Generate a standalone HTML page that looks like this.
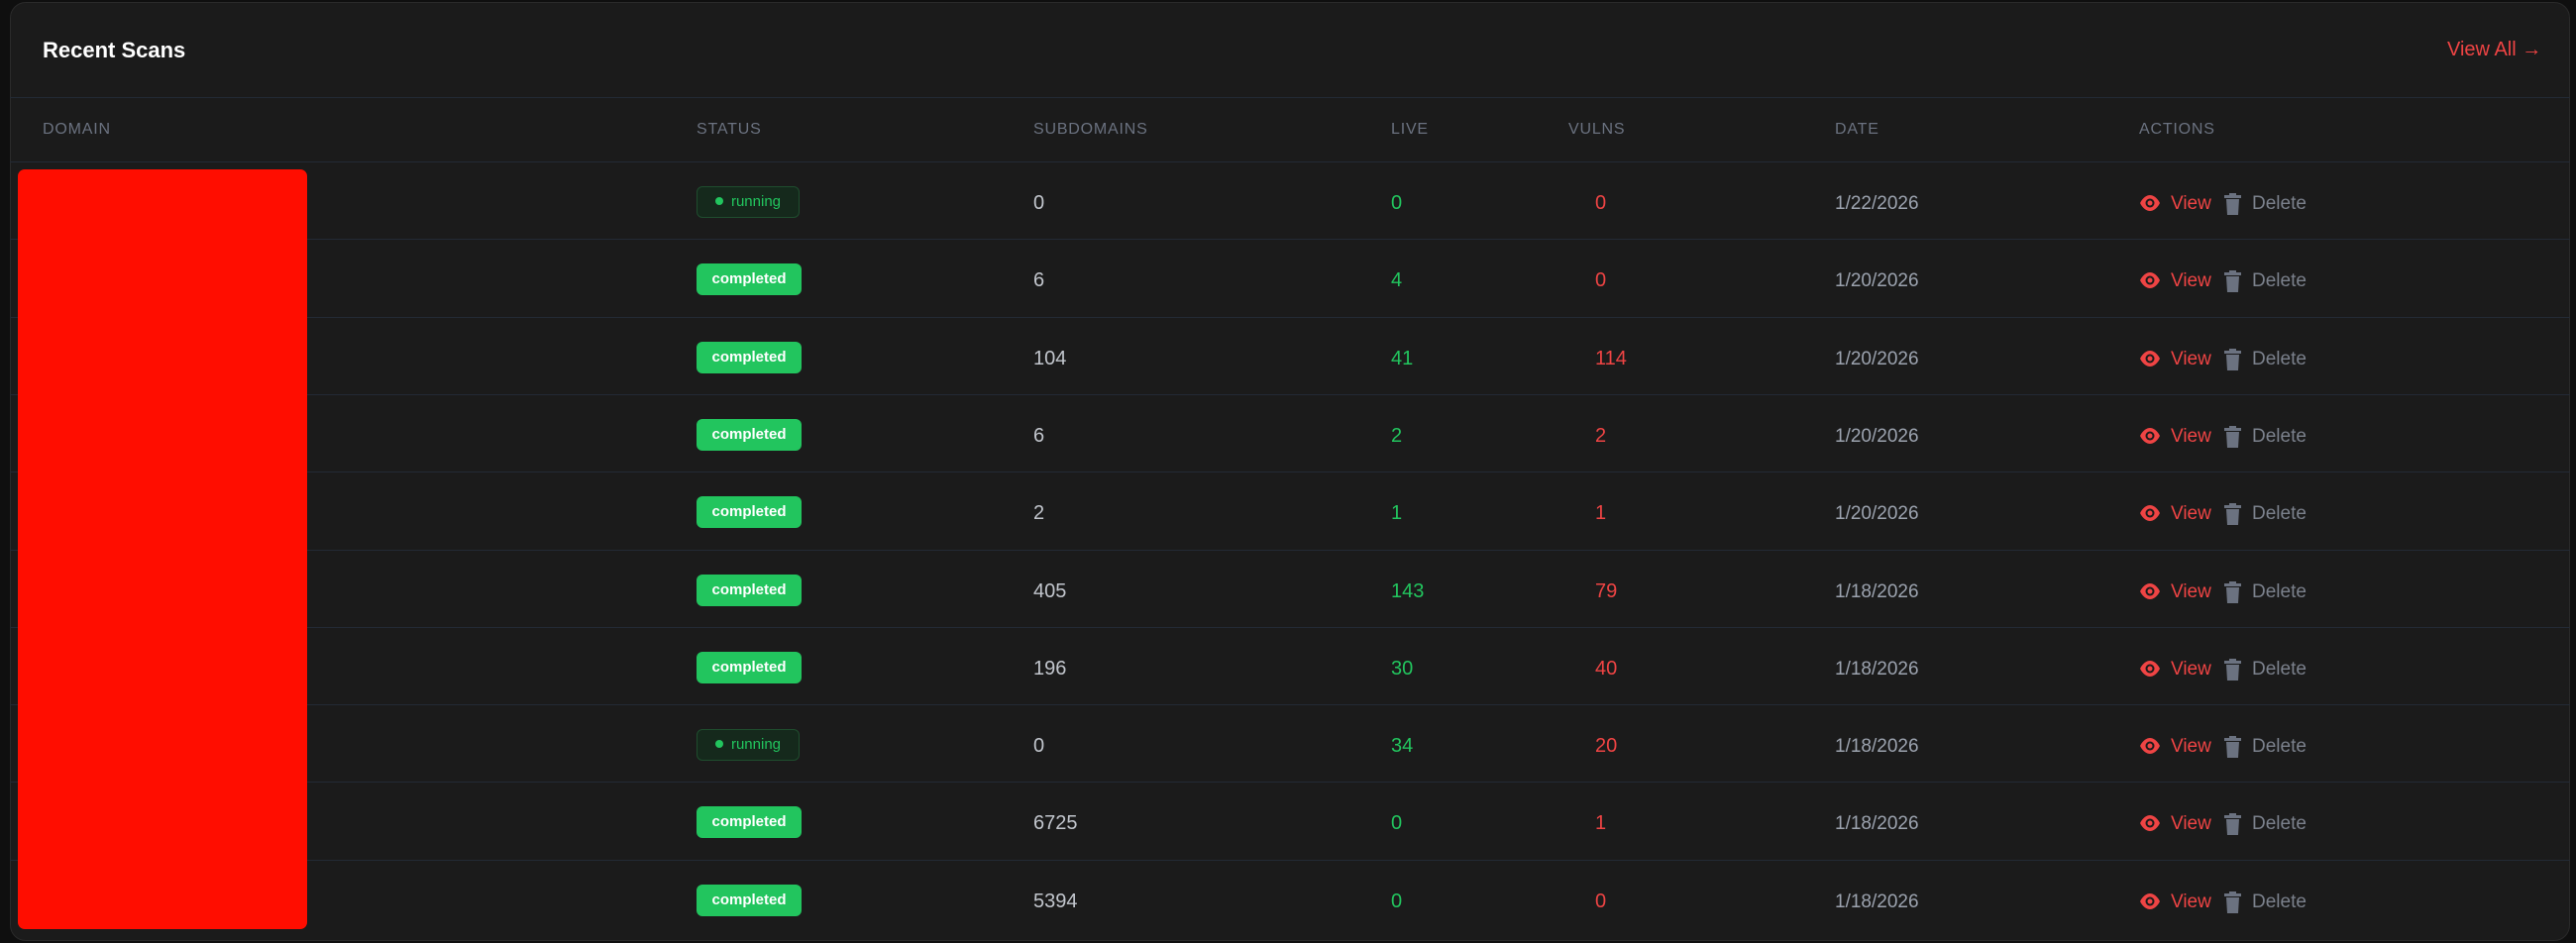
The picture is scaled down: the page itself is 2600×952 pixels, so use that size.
<!DOCTYPE html>
<html><head><meta charset="utf-8"><style>
*{margin:0;padding:0;box-sizing:border-box}
body{width:2600px;height:952px;background:#0f0f0f;font-family:"Liberation Sans",sans-serif;position:relative;overflow:hidden}
.card{position:absolute;left:10px;top:2px;width:2584px;height:948px;background:#1b1b1b;border:1px solid #2a2a2a;border-radius:16px}
.t{position:absolute;white-space:nowrap}
.title{left:43px;top:38px;font-size:22px;font-weight:bold;color:#fff}
.va{left:2470px;top:39px;font-size:20px;color:#ef4444}
.line{position:absolute;left:10px;width:2584px;height:1px;background:#232a35}
.h{top:122px;font-size:16px;color:#6b7280;letter-spacing:0.8px}
.red{position:absolute;left:18px;top:171px;width:292px;height:767px;background:#ff0d00;border-radius:7px}
.badge{position:absolute;left:703px;height:32px;border-radius:6px;font-size:15px;font-weight:bold;line-height:32px;text-align:center}
.comp{width:106px;background:#22c55e;color:#fff}
.run{width:104px;background:#15291c;border:1px solid #1f4d2e;color:#22c55e;line-height:30px;font-weight:normal}
.run i{display:inline-block;width:8px;height:8px;border-radius:50%;background:#22c55e;margin-right:8px;vertical-align:1px}
.n{font-size:20px}
.s{color:#c2c6cd}.g{color:#22c55e}.r{color:#ef4444}.d{color:#9ca3af;font-size:19px}
.del{color:#7b818c;font-size:19px}
</style></head><body>
<div class="card"></div>
<div class="t title">Recent Scans</div>
<div class="t va">View All →</div>
<div class="line" style="top:98px"></div>
<div class="t h" style="left:43px">DOMAIN</div>
<div class="t h" style="left:703px">STATUS</div>
<div class="t h" style="left:1043px">SUBDOMAINS</div>
<div class="t h" style="left:1404px">LIVE</div>
<div class="t h" style="left:1583px">VULNS</div>
<div class="t h" style="left:1852px">DATE</div>
<div class="t h" style="left:2159px">ACTIONS</div>
<div class="line" style="top:163px"></div>
<div id="rows"></div>
<script>
var d=[["running",0,0,0,"1/22/2026"],["completed",6,4,0,"1/20/2026"],["completed",104,41,114,"1/20/2026"],["completed",6,2,2,"1/20/2026"],["completed",2,1,1,"1/20/2026"],["completed",405,143,79,"1/18/2026"],["completed",196,30,40,"1/18/2026"],["running",0,34,20,"1/18/2026"],["completed",6725,0,1,"1/18/2026"],["completed",5394,0,0,"1/18/2026"]];
var h="";
d.forEach(function(r,i){
 var c=163+i*78.3+42;
 if(i>0)h+='<div class="line" style="top:'+(163+i*78.3).toFixed(0)+'px"></div>';
 if(r[0]=="running")h+='<div class="badge run" style="top:'+(c-17)+'px"><i></i>running</div>';
 else h+='<div class="badge comp" style="top:'+(c-17)+'px">completed</div>';
 var ty=c-11;
 h+='<div class="t n s" style="left:1043px;top:'+ty+'px">'+r[1]+'</div>';
 h+='<div class="t n g" style="left:1404px;top:'+ty+'px">'+r[2]+'</div>';
 h+='<div class="t n r" style="left:1610px;top:'+ty+'px">'+r[3]+'</div>';
 h+='<div class="t d" style="left:1852px;top:'+(ty+1)+'px">'+r[4]+'</div>';
 h+='<svg style="position:absolute;left:2159px;top:'+(c-9)+'px" width="22" height="18" viewBox="0 0 22 18"><path d="M1 9C4 3 8 1 11 1s7 2 10 8c-3 6-7 8-10 8S4 15 1 9z" fill="#ef4444"/><circle cx="11" cy="9" r="4.5" fill="#1b1b1b"/><circle cx="11" cy="9" r="2.5" fill="#ef4444"/></svg>';
 h+='<div class="t r" style="left:2191px;top:'+(ty+1)+'px;font-size:19px">View</div>';
 h+='<svg style="position:absolute;left:2245px;top:'+(c-10)+'px" width="17" height="22" viewBox="0 0 17 22"><rect x="0" y="2" width="17" height="3" fill="#6b7280"/><rect x="5" y="0" width="7" height="3" fill="#6b7280"/><path d="M2 6h13l-1 16H3z" fill="#6b7280"/></svg>';
 h+='<div class="t del" style="left:2273px;top:'+(ty+1)+'px">Delete</div>';
});
document.getElementById("rows").innerHTML=h;
</script>
<div class="red"></div>
</body></html>
